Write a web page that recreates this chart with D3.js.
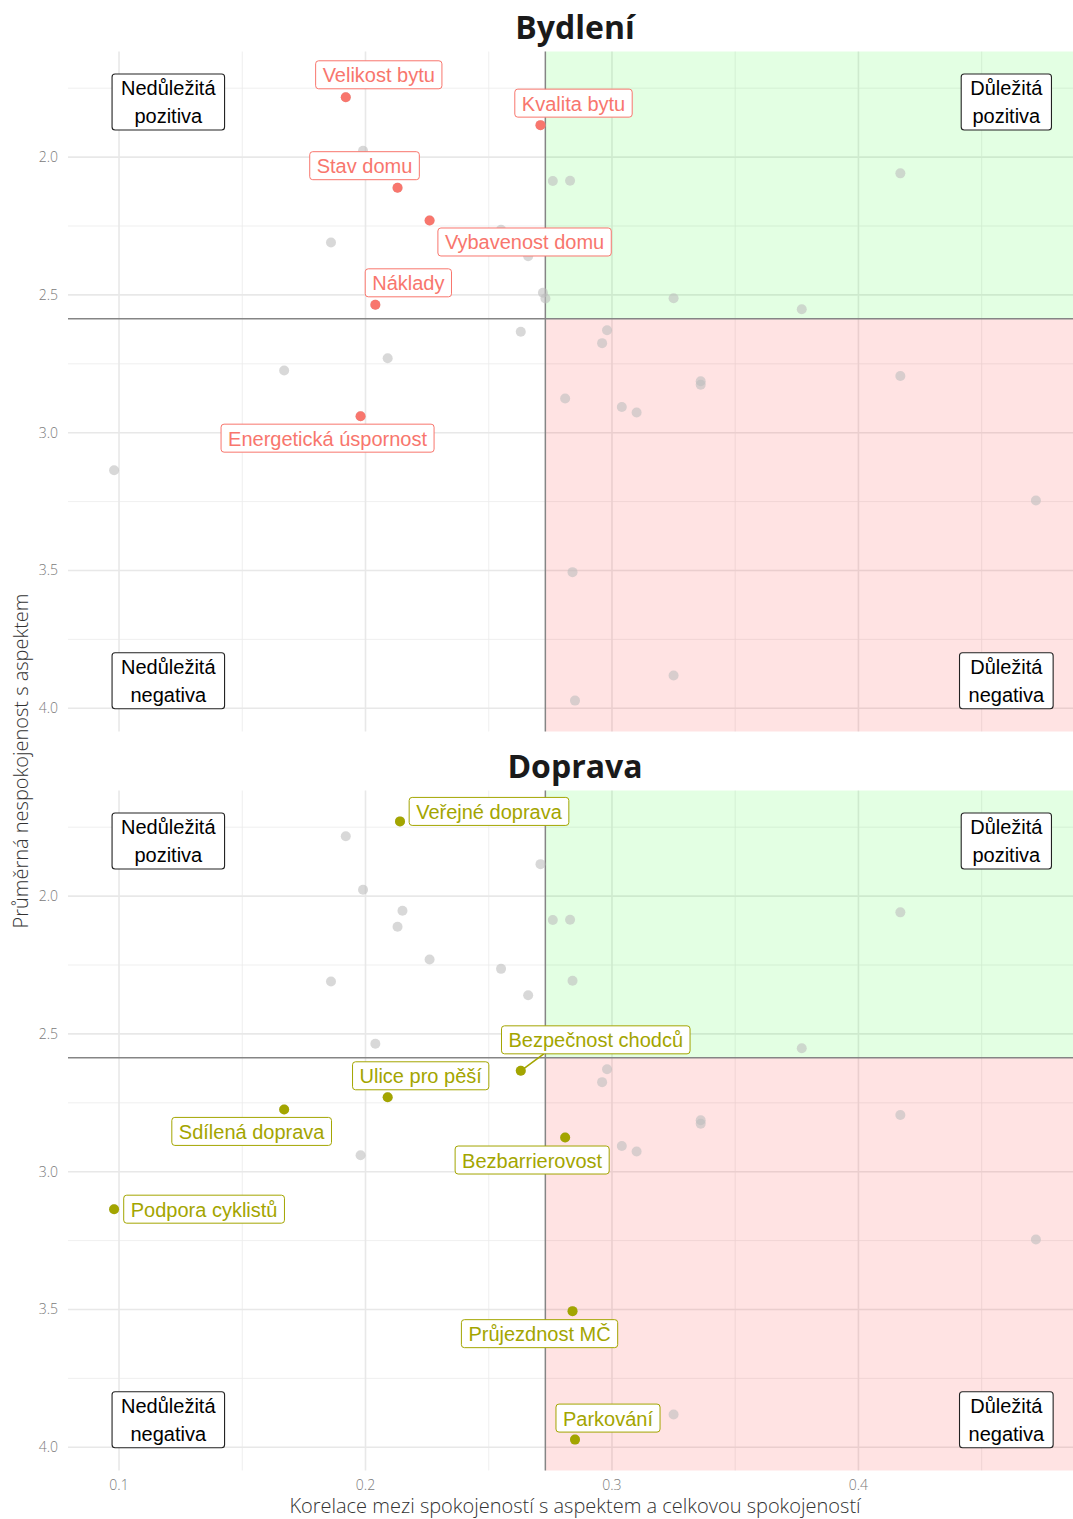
<!DOCTYPE html>
<html>
<head>
<meta charset="utf-8">
<script src="https://cdn.jsdelivr.net/npm/d3@7"></script>
<style>
  body { margin: 0; background: #fff; }
  svg { display: block; }
</style>
</head>
<body>
<div class="chart"></div>
<script>
// aspects per category: correlation with overall satisfaction (x), mean dissatisfaction (y)
var bydleniNames = ["Velikost bytu", "Kvalita bytu", "Stav domu", "Vybavenost domu", "Náklady", "Energetická úspornost"];
var bydleniCorr = [0.192, 0.271, 0.213, 0.226, 0.204, 0.198];
var bydleniDiss = [1.783, 1.884, 2.111, 2.230, 2.536, 2.940];

var dopravaNames = ["Veřejné doprava", "Bezpečnost chodců", "Ulice pro pěší", "Sdílená doprava", "Bezbarrierovost", "Podpora cyklistů", "Průjezdnost MČ", "Parkování"];
var dopravaCorr = [0.214, 0.263, 0.209, 0.167, 0.281, 0.098, 0.284, 0.285];
var dopravaDiss = [1.729, 2.634, 2.730, 2.774, 2.876, 3.136, 3.506, 3.972];

// all the other aspects (other categories), drawn grey in both panels
var ostatniCorr = [0.199, 0.215, 0.276, 0.283, 0.417, 0.255, 0.284, 0.186, 0.266, 0.272, 0.273,
                   0.325, 0.377, 0.298, 0.296, 0.336, 0.336, 0.417, 0.304, 0.310, 0.472, 0.325];
var ostatniDiss = [1.977, 2.053, 2.087, 2.086, 2.059, 2.264, 2.307, 2.310, 2.360, 2.492, 2.513,
                   2.512, 2.552, 2.628, 2.675, 2.813, 2.826, 2.794, 2.907, 2.927, 3.246, 3.881];

var xMajor = [0.1, 0.2, 0.3, 0.4];
var xMinor = [0.15, 0.25, 0.35, 0.45];
var yMajor = [2.0, 2.5, 3.0, 3.5, 4.0];
var yMinor = [1.75, 2.25, 2.75, 3.25, 3.75];

var quadrantText = [["Nedůležitá", "pozitiva"], ["Důležitá", "pozitiva"], ["Nedůležitá", "negativa"], ["Důležitá", "negativa"]];
var quadrantX = [0.12, 0.46, 0.12, 0.46];
var quadrantY = [1.8, 1.8, 3.9, 3.9];

// where the repelled labels ended up, px from their point
var labelOffset = {
  "Velikost bytu": [33, -22.5],
  "Kvalita bytu": [33, -22],
  "Stav domu": [-33, -22],
  "Vybavenost domu": [95, 21.5],
  "Náklady": [33, -22],
  "Energetická úspornost": [-33, 22],
  "Veřejné doprava": [89, -10],
  "Bezpečnost chodců": [75, -31],
  "Ulice pro pěší": [33, -21.5],
  "Sdílená doprava": [-32.5, 22],
  "Bezbarrierovost": [-33, 22.5],
  "Podpora cyklistů": [90, 0],
  "Průjezdnost MČ": [-33, 22.5],
  "Parkování": [33, -21.5]
};

var svgWidth = 1073;
var svgHeight = 1519;
var margin = { top: 51.5, left: 68 };
var panelWidth = 1014;   // runs slightly past the right edge of the window
var panelHeight = 680;
var panelStep = 739;

var svg = d3.select(".chart")
  .append("svg")
  .attr("width", svgWidth)
  .attr("height", svgHeight);

var allCorr = bydleniCorr.concat(dopravaCorr, ostatniCorr);
var allDiss = bydleniDiss.concat(dopravaDiss, ostatniDiss);
var meanCorr = d3.mean(allCorr);
var meanDiss = d3.mean(allDiss);

function expand(ext) {
  var pad = (ext[1] - ext[0]) * 0.05;
  return [ext[0] - pad, ext[1] + pad];
}

var xScale = d3.scaleLinear().domain(expand(d3.extent(allCorr))).range([0, panelWidth]);
var yScale = d3.scaleLinear().domain(expand(d3.extent(allDiss))).range([0, panelHeight]);

var allPoints = allCorr.map(function(c, i) { return { x: c, y: allDiss[i] }; });

var panels = [
  { title: "Bydlení", names: bydleniNames, corr: bydleniCorr, diss: bydleniDiss, color: "#F8766D" },
  { title: "Doprava", names: dopravaNames, corr: dopravaCorr, diss: dopravaDiss, color: "#A3A500" }
];

var lightFont = "'Open Sans', sans-serif";
var labelFont = "'Liberation Sans', Arial, sans-serif";

panels.forEach(function(p, pi) {
  var top = margin.top + pi * panelStep;
  var g = svg.append("g").attr("transform", `translate(${margin.left}, ${top})`);

  // grid
  g.selectAll(".minorx").data(xMinor).enter().append("line")
    .attr("x1", d => xScale(d)).attr("x2", d => xScale(d))
    .attr("y1", 0).attr("y2", panelHeight)
    .attr("stroke", "#ebebeb").attr("stroke-width", 0.8);
  g.selectAll(".minory").data(yMinor).enter().append("line")
    .attr("x1", 0).attr("x2", panelWidth)
    .attr("y1", d => yScale(d)).attr("y2", d => yScale(d))
    .attr("stroke", "#ebebeb").attr("stroke-width", 0.8);
  g.selectAll(".majorx").data(xMajor).enter().append("line")
    .attr("x1", d => xScale(d)).attr("x2", d => xScale(d))
    .attr("y1", 0).attr("y2", panelHeight)
    .attr("stroke", "#e8e8e8").attr("stroke-width", 1.6);
  g.selectAll(".majory").data(yMajor).enter().append("line")
    .attr("x1", 0).attr("x2", panelWidth)
    .attr("y1", d => yScale(d)).attr("y2", d => yScale(d))
    .attr("stroke", "#e8e8e8").attr("stroke-width", 1.6);

  // quadrant shading
  g.append("rect")
    .attr("x", xScale(meanCorr)).attr("y", 0)
    .attr("width", panelWidth - xScale(meanCorr)).attr("height", yScale(meanDiss))
    .attr("fill", "#00ff00").attr("fill-opacity", 0.11);
  g.append("rect")
    .attr("x", xScale(meanCorr)).attr("y", yScale(meanDiss))
    .attr("width", panelWidth - xScale(meanCorr)).attr("height", panelHeight - yScale(meanDiss))
    .attr("fill", "#ff0000").attr("fill-opacity", 0.11);

  // mean lines
  g.append("line")
    .attr("x1", xScale(meanCorr)).attr("x2", xScale(meanCorr))
    .attr("y1", 0).attr("y2", panelHeight)
    .attr("stroke", "#858585").attr("stroke-width", 1.5);
  g.append("line")
    .attr("x1", 0).attr("x2", panelWidth)
    .attr("y1", yScale(meanDiss)).attr("y2", yScale(meanDiss))
    .attr("stroke", "#858585").attr("stroke-width", 1.5);

  // y tick labels
  g.selectAll(".ytick").data(yMajor).enter().append("text")
    .attr("x", -10).attr("y", d => yScale(d))
    .attr("dy", "0.35em")
    .attr("text-anchor", "end")
    .style("font-family", lightFont).style("font-weight", 300)
    .style("font-size", "14px").attr("fill", "#7a7a7a")
    .text(d3.format(".1f"));

  // panel title
  svg.append("text")
    .attr("x", margin.left + panelWidth / 2).attr("y", top - 13)
    .attr("text-anchor", "middle")
    .style("font-family", lightFont).style("font-weight", 700)
    .style("font-size", "32px").attr("fill", "#1a1a1a")
    .text(p.title);

  // all aspects in grey
  g.selectAll(".bg").data(allPoints).enter().append("circle")
    .attr("cx", d => xScale(d.x)).attr("cy", d => yScale(d.y))
    .attr("r", 5)
    .attr("fill", "#bebebe").attr("fill-opacity", 0.6);

  // highlighted category
  var items = p.names.map(function(n, i) { return { name: n, x: p.corr[i], y: p.diss[i] }; });

  g.selectAll(".hl").data(items).enter().append("circle")
    .attr("cx", d => xScale(d.x)).attr("cy", d => yScale(d.y))
    .attr("r", 5)
    .attr("fill", p.color);

  items.forEach(function(d) {
    var px = xScale(d.x), py = yScale(d.y);
    var off = labelOffset[d.name];
    var cx = px + off[0], cy = py + off[1];
    var lg = g.append("g");
    var txt = lg.append("text")
      .attr("x", cx).attr("y", cy + 7.5)
      .attr("text-anchor", "middle")
      .style("font-family", labelFont).style("font-size", "20px")
      .attr("fill", p.color)
      .text(d.name);
    var w = txt.node().getComputedTextLength() + 14;
    var h = 28;
    var bx = cx - w / 2, by = cy - h / 2;
    // segment if the box sits far from the point
    var nx = Math.max(bx, Math.min(px, bx + w));
    var ny = Math.max(by, Math.min(py, by + h));
    if (Math.hypot(nx - px, ny - py) > 15) {
      lg.insert("line", "text")
        .attr("x1", px).attr("y1", py)
        .attr("x2", (nx + cx) / 2 > nx ? nx + 23 : nx).attr("y2", ny)
        .attr("stroke", p.color).attr("stroke-width", 1.6);
    }
    lg.insert("rect", "text")
      .attr("x", bx).attr("y", by)
      .attr("width", w).attr("height", h)
      .attr("rx", 3).attr("ry", 3)
      .attr("fill", "#fff")
      .attr("stroke", p.color).attr("stroke-width", 1);
  });

  // quadrant captions
  quadrantText.forEach(function(lines, qi) {
    var cx = xScale(quadrantX[qi]), cy = yScale(quadrantY[qi]);
    var qg = g.append("g");
    var widths = lines.map(function(line, li) {
      var t = qg.append("text")
        .attr("x", cx).attr("y", cy - 7 + li * 28.5)
        .attr("text-anchor", "middle")
        .style("font-family", labelFont).style("font-size", "20px")
        .attr("fill", "#000")
        .text(line);
      return t.node().getComputedTextLength();
    });
    var w = d3.max(widths) + 18;
    var h = 56;
    qg.insert("rect", "text")
      .attr("x", cx - w / 2).attr("y", cy - h / 2)
      .attr("width", w).attr("height", h)
      .attr("rx", 3).attr("ry", 3)
      .attr("fill", "#fff")
      .attr("stroke", "#222").attr("stroke-width", 1.1);
  });
});

// x tick labels under the lower panel
var bottom = margin.top + panelStep + panelHeight;
svg.append("g")
  .attr("transform", `translate(${margin.left}, ${bottom})`)
  .selectAll("text").data(xMajor).enter().append("text")
  .attr("x", d => xScale(d)).attr("y", 19.5)
  .attr("text-anchor", "middle")
  .style("font-family", lightFont).style("font-weight", 300)
  .style("font-size", "14px").attr("fill", "#7a7a7a")
  .text(d3.format(".1f"));

// axis titles
svg.append("text")
  .attr("x", margin.left + panelWidth / 2).attr("y", 1513)
  .attr("text-anchor", "middle")
  .style("font-family", lightFont).style("font-weight", 300)
  .style("font-size", "20px").attr("fill", "#333")
  .text("Korelace mezi spokojeností s aspektem a celkovou spokojeností");

svg.append("text")
  .attr("transform", `translate(28, ${margin.top + (panelStep + panelHeight) / 2}) rotate(-90)`)
  .attr("text-anchor", "middle")
  .style("font-family", lightFont).style("font-weight", 300)
  .style("font-size", "20px").attr("fill", "#333")
  .text("Průměrná nespokojenost s aspektem");
</script>
</body>
</html>
